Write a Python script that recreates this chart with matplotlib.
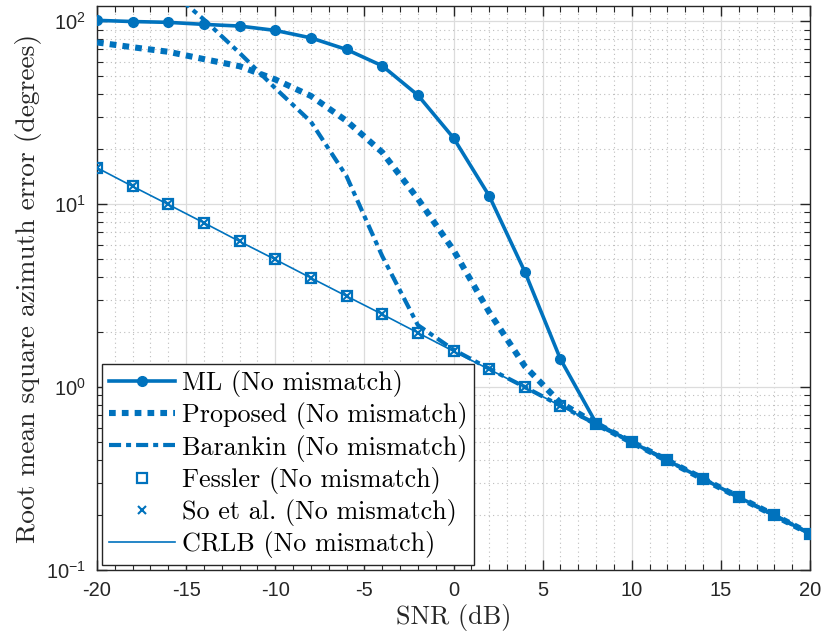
import numpy as np
import matplotlib
matplotlib.use("Agg")
import matplotlib.pyplot as plt
from matplotlib.ticker import LogLocator, MultipleLocator, NullFormatter

snr = [-20, -18, -16, -14, -12, -10, -8, -6, -4, -2, 0, 2, 4, 6, 8, 10, 12, 14, 16, 18, 20]

crlb = [15.8, 12.5, 9.95, 7.9, 6.25, 4.98, 3.95, 3.14, 2.5, 1.98, 1.57, 1.25, 0.995, 0.79,
        0.628, 0.5, 0.397, 0.315, 0.25, 0.199, 0.158]
ml = [101, 99.5, 98.5, 96, 94, 89, 81, 70, 57, 39.4, 23.0, 11.1, 4.27, 1.42,
      0.635, 0.5, 0.397, 0.315, 0.25, 0.199, 0.158]
proposed = [76.5, 72, 68, 62, 56.7, 48, 39, 28.5, 19.2, 10.7, 5.6, 2.57, 1.3, 0.82,
            0.63, 0.5, 0.397, 0.315, 0.25, 0.199, 0.158]
barankin = [250, 200, 150, 102, 67, 43, 28.2, 14.2, 5.2, 2.18, 1.6, 1.26, 1.0, 0.79,
            0.628, 0.5, 0.397, 0.315, 0.25, 0.199, 0.158]
fessler = crlb
so_etal = crlb

labels = ["ML (No mismatch)", "Proposed (No mismatch)", "Barankin (No mismatch)",
          "Fessler (No mismatch)", "So et al. (No mismatch)", "CRLB (No mismatch)"]

blue = "#0072BD"
plt.rcParams["font.family"] = ["Liberation Sans", "DejaVu Sans"]
plt.rcParams["axes.unicode_minus"] = False

fig = plt.figure(figsize=(8.24, 6.43), dpi=100)
ax = fig.add_axes([97 / 824, 73 / 643, 713 / 824, 564 / 643])

ax.semilogy(snr, ml, "-", color=blue, lw=2.6, marker="o", ms=7, label=labels[0], zorder=5)
ax.semilogy(snr, proposed, color=blue, lw=4.4, linestyle=(0, (1.1, 1.0)),
            dash_capstyle="butt", label=labels[1], zorder=4)
ax.semilogy(snr, barankin, color=blue, lw=3.0, linestyle=(0, (2.9, 1.2, 1.2, 1.2)),
            dash_capstyle="butt", label=labels[2], zorder=4)
ax.semilogy(snr, fessler, "none", marker="s", ms=7.5, mfc="none", mec=blue, mew=1.6,
            label=labels[3], zorder=6)
ax.semilogy(snr, so_etal, "none", marker="x", ms=5.5, mec=blue, mew=1.5,
            label=labels[4], zorder=6)
ax.semilogy(snr, crlb, "-", color=blue, lw=1.2, label=labels[5], zorder=3)

ax.set_xlim(-20, 20)
ax.set_ylim(0.1, 121)
ax.xaxis.set_major_locator(MultipleLocator(5))
ax.xaxis.set_minor_locator(MultipleLocator(1))
ax.yaxis.set_major_locator(LogLocator(base=10, numticks=10))
ax.yaxis.set_minor_locator(LogLocator(base=10, subs=np.arange(2, 10), numticks=10))
ax.yaxis.set_minor_formatter(NullFormatter())

ax.grid(True, which="major", color="#dcdcdc", lw=0.9, ls="-")
ax.grid(True, which="minor", color="#bdbdbd", lw=0.8, ls=(0, (1, 3)))
ax.set_axisbelow(True)

ax.tick_params(which="both", direction="in", top=True, right=True, colors="#262626",
               labelcolor="#262626", labelsize=14.5)
ax.tick_params(which="major", length=7, width=1.0, pad=8)
ax.tick_params(which="minor", length=4, width=0.8)
for s in ax.spines.values():
    s.set_color("#262626")
    s.set_linewidth(1.0)

ax.set_xlabel("SNR (dB)", fontfamily="cmr10", fontsize=18.8, color="#262626", labelpad=3)
ax.set_ylabel("Root mean square azimuth error (degrees)", fontfamily="cmr10", fontsize=19.8,
              color="#262626", labelpad=3)

leg = ax.legend(loc="lower left", prop={"family": "cmr10", "size": 18.8}, frameon=True,
                fancybox=False, edgecolor="#262626", framealpha=1, handlelength=2.55,
                handletextpad=0.25, labelspacing=0.2, borderaxespad=0.2, borderpad=0.25)
leg.get_frame().set_linewidth(1.0)

fig.savefig("out.png", dpi=100)
